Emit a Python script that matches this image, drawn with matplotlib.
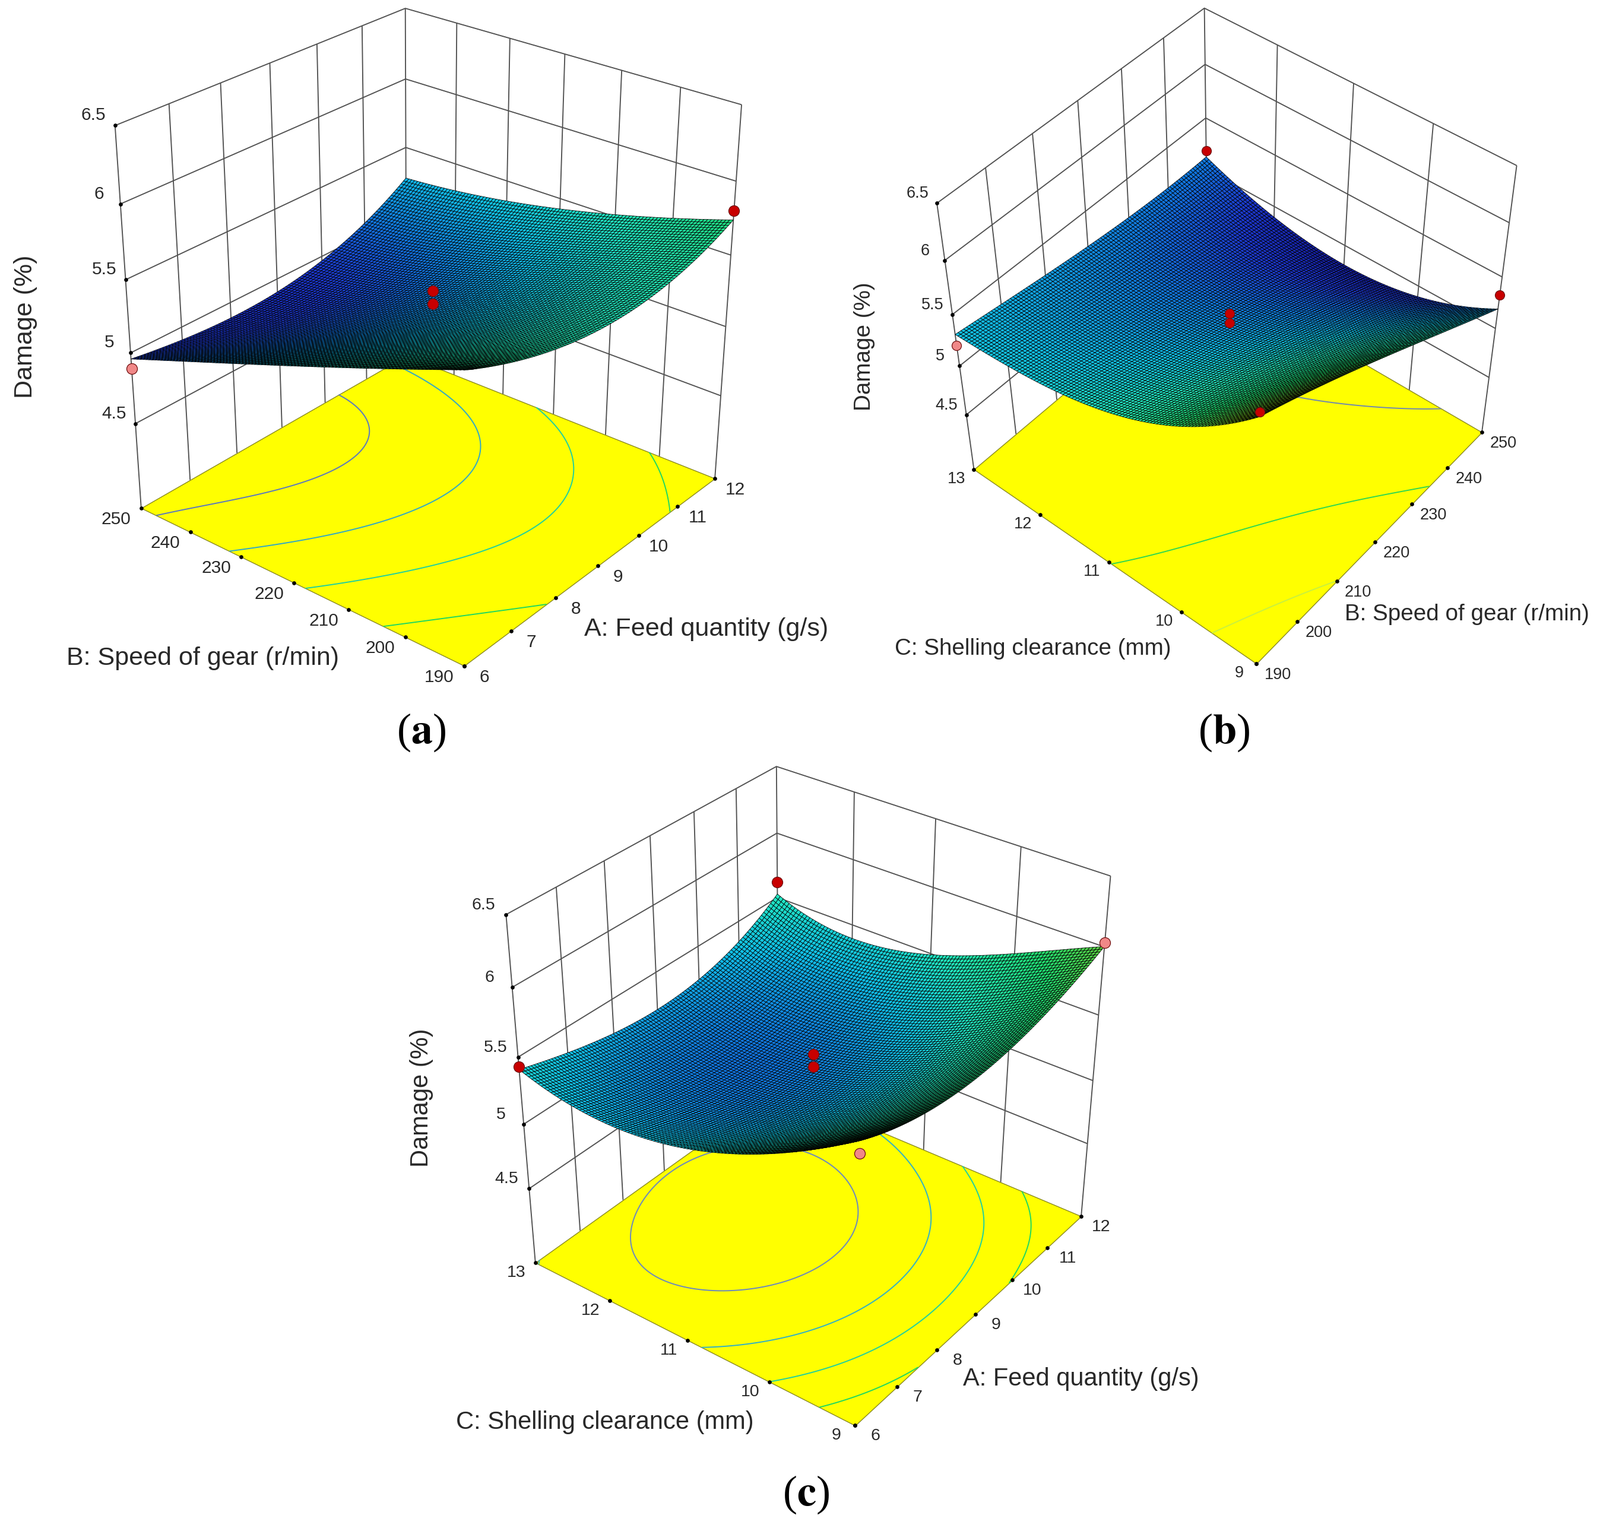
import numpy as np
import matplotlib
matplotlib.use('Agg')
import matplotlib.pyplot as plt
from matplotlib.colors import LinearSegmentedColormap, Normalize

W, H = 2695, 2574
plt.rcParams['font.family'] = ['Liberation Sans', 'DejaVu Sans']
plt.rcParams['mathtext.fontset'] = 'stix'

# ---- data ----
FEED = [6, 7.5, 9, 10.5, 12]
SPEED = [190, 205, 220, 235, 250]
CLEAR = [9, 10, 11, 12, 13]

# rows follow y values, columns follow x values
Z_A = [[5.81, 5.62, 5.55, 5.57, 5.74],
       [5.57, 5.44, 5.38, 5.42, 5.57],
       [5.39, 5.24, 5.17, 5.21, 5.42],
       [5.15, 5.04, 5.01, 5.10, 5.33],
       [4.96, 4.90, 4.90, 5.02, 5.27]]
Z_B = [[6.36, 5.80, 5.50, 5.35, 5.31],
       [6.10, 5.62, 5.32, 5.23, 5.23],
       [5.80, 5.40, 5.20, 5.11, 5.16],
       [5.50, 5.18, 5.00, 5.00, 5.12],
       [5.19, 4.90, 4.80, 4.90, 5.12]]
Z_C = [[5.96, 5.60, 5.37, 5.30, 5.41],
       [5.82, 5.42, 5.20, 5.14, 5.27],
       [5.74, 5.36, 5.15, 5.10, 5.22],
       [5.86, 5.46, 5.24, 5.16, 5.28],
       [6.00, 5.72, 5.50, 5.39, 5.53]]

Z_TICKS = [4.5, 5, 5.5, 6, 6.5]
FEED_TICKS = [6, 7, 8, 9, 10, 11, 12]
SPEED_TICKS = [190, 200, 210, 220, 230, 240, 250]
CLEAR_TICKS = [9, 10, 11, 12, 13]

LEVELS_A = [5.0, 5.2, 5.4, 5.6]
LEVELS_B = [5.0, 5.5, 6.0]
LEVELS_C = [5.2, 5.4, 5.6, 5.8]
COLORS_A = ['#5a78c0', '#30a8c8', '#20d0a0', '#20d860']
COLORS_B = ['#7088b0', '#30d850', '#c8f040']
COLORS_C = ['#6a88c0', '#30b0c8', '#20d0a0', '#20d860']

# design points: x, y, z, colour
PTS_A = [(9, 220, 5.34, 'r'), (9, 220, 5.25, 'r'), (6, 250, 4.89, 'p'), (12, 190, 5.80, 'r')]
PTS_B = [(11, 220, 5.33, 'r'), (11, 220, 5.24, 'r'), (13, 250, 5.18, 'r'),
         (13, 190, 5.20, 'p'), (9, 250, 5.33, 'r'), (9, 190, 6.40, 'r')]
PTS_C = [(11, 9, 5.36, 'r'), (11, 9, 5.27, 'r'), (13, 6, 5.43, 'r'),
         (13, 12, 5.62, 'r'), (9, 12, 6.03, 'p'), (9, 6, 5.88, 'p')]

# frame reference points of each panel: (x, y, z) -> picture pixel, fit weight
FRAME_A = [((6, 190, 3.88), (781, 1122), 3), ((12, 190, 3.88), (1204, 805), 3), ((6, 250, 3.88), (239, 858), 3),
           ((12, 250, 3.88), (685, 603), 1), ((6, 250, 6.5), (194, 213), 3), ((12, 250, 6.5), (682, 14), 3),
           ((12, 190, 6.5), (1250, 177), 3), ((6, 250, 6), (201, 337), 1), ((6, 250, 5.5), (211, 460), 1),
           ((6, 250, 5), (218, 584), 1), ((6, 250, 4.5), (226, 706), 1)]
FRAME_B = [((9, 190, 3.91), (2116, 1118), 3), ((13, 190, 3.91), (1642, 793), 3), ((9, 250, 3.91), (2496, 728), 3),
           ((13, 250, 3.91), (2029, 458), 1), ((13, 190, 6.5), (1578, 344), 3), ((13, 250, 6.5), (2029, 14), 3),
           ((9, 250, 6.5), (2555, 279), 3), ((13, 190, 6), (1589, 433), 1), ((13, 190, 5.5), (1601, 518), 1),
           ((13, 190, 5), (1613, 606), 1), ((13, 190, 4.5), (1625, 691), 1)]
FRAME_C = [((9, 6, 3.9), (1440, 2402), 3), ((13, 6, 3.9), (903, 2129), 3), ((9, 12, 3.9), (1821, 2048), 3),
           ((13, 12, 3.9), (1308, 1840), 1), ((13, 6, 6.5), (852, 1543), 3), ((13, 12, 6.5), (1308, 1291), 3),
           ((9, 12, 6.5), (1871, 1476), 3), ((13, 6, 6), (862, 1656), 1), ((13, 6, 5.5), (871, 1768), 1),
           ((13, 6, 5), (880, 1880), 1), ((13, 6, 4.5), (890, 1993), 1)]

cmap = LinearSegmentedColormap.from_list('rsm', [
    (0.00, '#101090'), (0.14, '#1c38d0'), (0.25, '#1078e0'), (0.39, '#10c0e8'),
    (0.54, '#20e8c0'), (0.75, '#20e070'), (1.00, '#88c820')])
norm = Normalize(4.75, 6.15)

fig = plt.figure(figsize=(W / 100, H / 100), dpi=100, facecolor='white')


def fit_camera(frame):
    A = []
    for (x, y, z), (u, v), wt in frame:
        X = [x, y, z, 1]
        A.append([wt * c for c in X + [0, 0, 0, 0] + [-u * c for c in X]])
        A.append([wt * c for c in [0, 0, 0, 0] + X + [-v * c for c in X]])
    A = np.array(A, float)
    scale = np.tile([100., 1000., 100., 1.], 3)
    sol = np.linalg.svd(A * scale)[2][-1] * scale
    return sol.reshape(3, 4)


def refine(xs, ys, table, n=101):
    gx, gy = np.meshgrid(xs, ys)
    x0, dx = np.mean(xs), np.ptp(xs) / 2
    y0, dy = np.mean(ys), np.ptp(ys) / 2
    V = np.polynomial.polynomial.polyvander2d((gx - x0) / dx, (gy - y0) / dy, [3, 3])
    coef = np.linalg.lstsq(V.reshape(-1, 16), np.array(table, float).ravel(), rcond=None)[0]
    fx = np.linspace(xs[0], xs[-1], n)
    fy = np.linspace(ys[0], ys[-1], n)
    FX, FY = np.meshgrid(fx, fy)
    FZ = np.polynomial.polynomial.polyval2d((FX - x0) / dx, (FY - y0) / dy, coef.reshape(4, 4))
    return FX, FY, FZ


def panel(box, frame, xs, ys, table, xticks, yticks, levels, lev_colors, pts, far_x, far_y, z_corner,
          tick_fs, label_fs, z_off, x_off, y_off, labels, msize, zmin=3.9, zmax=6.5):
    l, t, size = box
    ax = fig.add_axes([l / W, 1 - (t + size) / H, size / W, size / H], projection='3d',
                      computed_zorder=False)
    ax.set_axis_off()
    ax.set_proj_type('ortho')
    ax.patch.set_visible(False)
    P = fit_camera(frame)
    cx = np.array([np.mean(xs), np.mean(ys), (zmin + zmax) / 2, 1.0])
    P = P / (P[2] @ cx)

    def get_proj():
        ax.apply_aspect()
        inv = ax.transData.inverted().get_matrix()
        flip = np.array([[1, 0, 0], [0, -1, H], [0, 0, 1.0]])
        Q = inv @ flip @ P
        w = Q[2]
        d = w - np.array([0, 0, 0, 1.0])
        return np.array([Q[0], Q[1], d, w])
    ax.get_proj = get_proj

    def px(x, y, z):
        r = P @ np.array([x, y, z, 1.0])
        return r[0] / r[2], r[1] / r[2]

    def put(u, v, s, **kw):
        fig.text(u / W, 1 - v / H, s, **kw)

    x0, x1 = xs[0], xs[-1]
    y0, y1 = ys[0], ys[-1]
    near_x = x0 if far_x == x1 else x1
    near_y = y0 if far_y == y1 else y1
    grey = '#505050'
    lk = dict(color=grey, lw=1.35, zorder=1, clip_on=False, solid_capstyle='butt')

    # walls
    for z in Z_TICKS:
        ax.plot([near_x, far_x, far_x], [far_y, far_y, near_y], [z, z, z], **lk)
    for x in xticks[1:-1]:
        ax.plot([x, x], [far_y, far_y], [zmin, zmax], **lk)
    for y in yticks[1:-1]:
        ax.plot([far_x, far_x], [y, y], [zmin, zmax], **lk)
    for (a, b) in [(near_x, far_y), (far_x, far_y), (far_x, near_y)]:
        ax.plot([a, a], [b, b], [zmin, zmax], **lk)

    # floor
    fx, fy = np.meshgrid([x0, x1], [y0, y1])
    ax.plot_surface(fx, fy, np.full_like(fx, zmin, dtype=float), color='#ffff00', shade=False,
                    edgecolor='#8a8a20', linewidth=1.0, zorder=2)

    FX, FY, FZ = refine(xs, ys, table)
    ax.contour(FX, FY, FZ, levels=levels, colors=lev_colors, zdir='z', offset=zmin,
               linewidths=1.4, zorder=3)

    # response surface
    face = cmap(norm(FZ))
    ax.plot_surface(FX, FY, FZ, facecolors=face, rstride=1, cstride=1, shade=False,
                    edgecolor='black', linewidth=0.55, antialiased=True, zorder=4)

    # design points
    for (x, y, z, c) in pts:
        ax.plot([x], [y], [z], 'o', ms=msize, mec='#701010', mew=0.9,
                mfc='#c80000' if c == 'r' else '#f08888', zorder=6, clip_on=False)

    # ticks
    tk = dict(marker='o', ms=3.8, color='black', ls='none', zorder=5, clip_on=False)
    txt = dict(fontsize=tick_fs, color='#282828', ha='center', va='center')
    for x in xticks:
        ax.plot([x], [y0], [zmin], **tk)
        u, v = px(x, y0, zmin)
        put(u + x_off[0], v + x_off[1], f'{x:g}', **txt)
    for y in yticks:
        ax.plot([x0], [y], [zmin], **tk)
        u, v = px(x0, y, zmin)
        put(u + y_off[0], v + y_off[1], f'{y:g}', **txt)
    for z in Z_TICKS:
        ax.plot([z_corner[0]], [z_corner[1]], [z], **tk)
        u, v = px(z_corner[0], z_corner[1], z)
        put(u + z_off[0], v + z_off[1], f'{z:g}', **txt)

    # axis titles
    for (u, v, s, rot) in labels:
        put(u, v, s, fontsize=label_fs, color='#282828', ha='center', va='center', rotation=rot)
    return ax


panel((0, 0, 1330), FRAME_A, FEED, SPEED, Z_A, FEED_TICKS, SPEED_TICKS, LEVELS_A, COLORS_A, PTS_A,
      far_x=12, far_y=250, z_corner=(6, 250), tick_fs=21.5, label_fs=31,
      z_off=(-36, -17), x_off=(34, 19), y_off=(-42, 19), zmin=3.88,
      labels=[(43, 550, 'Damage (%)', 90), (342, 1109, 'B: Speed of gear (r/min)', 0),
              (1190, 1060, 'A: Feed quantity (g/s)', 0)], msize=13)

panel((1390, 0, 1305), FRAME_B, CLEAR, SPEED, Z_B, CLEAR_TICKS, SPEED_TICKS, LEVELS_B, COLORS_B, PTS_B,
      far_x=13, far_y=250, z_corner=(13, 190), tick_fs=19.5, label_fs=27.8,
      z_off=(-33, -16), x_off=(-29, 16), y_off=(36, 19), zmin=3.91,
      labels=[(1456, 584, 'Damage (%)', 90), (1740, 1093, 'C: Shelling clearance (mm)', 0),
              (2471, 1035, 'B: Speed of gear (r/min)', 0)], msize=11.5)

panel((660, 1174, 1400), FRAME_C, CLEAR, FEED, Z_C, CLEAR_TICKS, FEED_TICKS, LEVELS_C, COLORS_C, PTS_C,
      far_x=13, far_y=12, z_corner=(13, 6), tick_fs=20.5, label_fs=30,
      z_off=(-38, -16), x_off=(-32, 17), y_off=(34, 18),
      labels=[(710, 1849, 'Damage (%)', 90), (1019, 2396, 'C: Shelling clearance (mm)', 0),
              (1821, 2323, 'A: Feed quantity (g/s)', 0)], msize=13)

for (u, v, letter) in [(710, 1234, 'a'), (2062, 1234, 'b'), (1358, 2518, 'c')]:
    fig.text(u / W, 1 - v / H, '(' + r'$\mathbf{' + letter + '}$' + ')', fontsize=52,
             family='Liberation Serif', ha='center', va='center', color='black')

fig.savefig('out.png', dpi=100, facecolor='white')
